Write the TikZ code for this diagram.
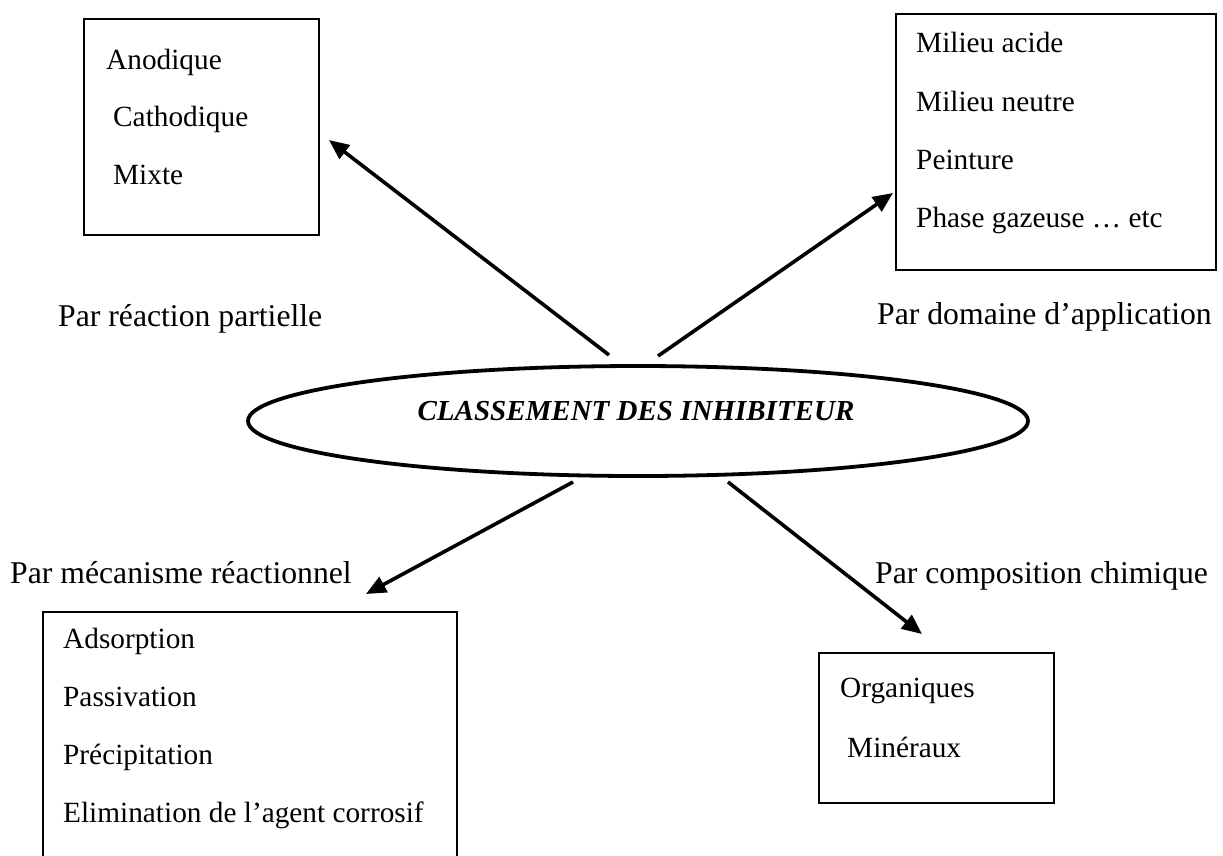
\documentclass[tikz,border=0pt]{standalone}
\usepackage{fontspec}
\setmainfont{Liberation Serif}
\usetikzlibrary{arrows.meta,shapes.geometric}
\begin{document}
\begin{tikzpicture}[x=1pt,y=-1pt,
  item/.style={anchor=base west, inner sep=0pt, font=\fontsize{29.3pt}{35pt}\selectfont},
  lbl/.style={anchor=base west, inner sep=0pt, font=\fontsize{31.7pt}{38pt}\selectfont},
  boxst/.style={draw, line width=2.5pt, inner sep=0pt},
  ellst/.style={draw, ellipse, line width=3.8pt, inner sep=0pt, minimum width=780pt, minimum height=110pt},
  arr/.style={line width=3.6pt, -{Triangle[length=20pt,width=17pt]}},
  titlest/.style={anchor=base, inner sep=0pt, font=\fontsize{29pt}{35pt}\selectfont\bfseries\itshape}]
\useasboundingbox (0,0) rectangle (1223,855);

% central ellipse
\node[ellst] (ell) at (638,421) {};
\node[titlest] (title) at (636,420) {CLASSEMENT DES INHIBITEUR};

% boxes
\node[boxst, minimum width=235pt, minimum height=216pt] (box1) at (201.5,127) {};
\node[boxst, minimum width=320pt, minimum height=256pt] (box2) at (1056,142) {};
\node[boxst, minimum width=414pt, minimum height=270pt] (box3) at (250,747) {};
\node[boxst, minimum width=235pt, minimum height=150pt] (box4) at (936.5,728) {};

% box 1 contents
\node[item] (b1a) at (106,69) {Anodique};
\node[item] (b1b) at (113,126) {Cathodique};
\node[item] (b1c) at (113,184) {Mixte};

% box 2 contents
\node[item] (b2a) at (916,52) {Milieu acide};
\node[item] (b2b) at (916,111) {Milieu neutre};
\node[item] (b2c) at (916,169) {Peinture};
\node[item] (b2d) at (916,227) {Phase gazeuse … etc};

% box 3 contents
\node[item] (b3a) at (63,648) {Adsorption};
\node[item] (b3b) at (63,706) {Passivation};
\node[item] (b3c) at (63,764) {Précipitation};
\node[item] (b3d) at (63,822) {Elimination de l’agent corrosif};

% box 4 contents
\node[item] (b4a) at (840,697) {Organiques};
\node[item] (b4b) at (847,757) {Minéraux};

% labels
\node[lbl] (l1) at (58,326) {Par réaction partielle};
\node[lbl] (l2) at (877,324) {Par domaine d’application};
\node[lbl] (l3) at (10,583) {Par mécanisme réactionnel};
\node[lbl] (l4) at (875,583) {Par composition chimique};

% arrow end points
\coordinate (a1s) at (609,355);
\coordinate (a1e) at (329,140);
\coordinate (a2s) at (658,356);
\coordinate (a2e) at (893,193);
\coordinate (a3s) at (573,482);
\coordinate (a3e) at (366,594);
\coordinate (a4s) at (728,482);
\coordinate (a4e) at (922,634);

\draw[arr] (a1s) -- (a1e);
\draw[arr] (a2s) -- (a2e);
\draw[arr] (a3s) -- (a3e);
\draw[arr] (a4s) -- (a4e);
\end{tikzpicture}
\end{document}
